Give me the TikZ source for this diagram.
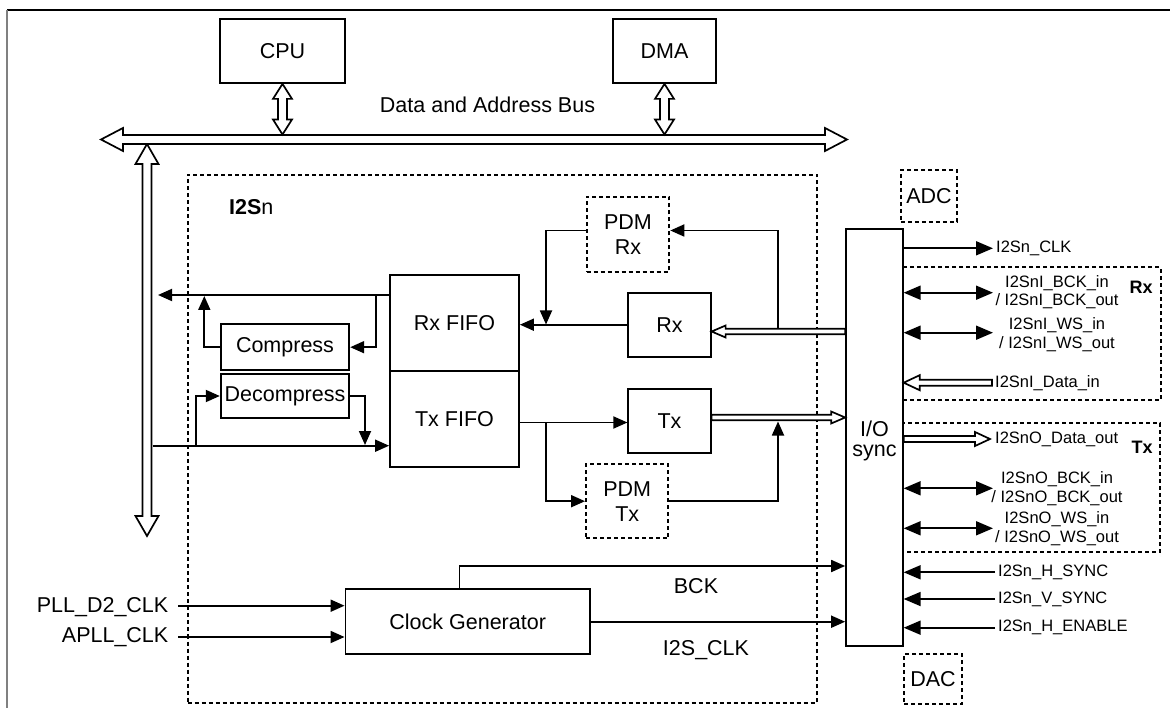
\documentclass[tikz,border=0pt]{standalone}
\usepackage{fontspec}
\setmainfont{Liberation Sans}
\usetikzlibrary{arrows.meta,calc}

\newcommand{\DblH}[5]{\draw[hollow] let \p1=#1, \p2=#2 in
 (\x1,\y1) -- ({\x1+#5},{\y1+#4}) -- ({\x1+#5},{\y1+#3}) -- ({\x2-#5},{\y1+#3}) -- ({\x2-#5},{\y1+#4}) -- (\x2,\y1) -- ({\x2-#5},{\y1-#4}) -- ({\x2-#5},{\y1-#3}) -- ({\x1+#5},{\y1-#3}) -- ({\x1+#5},{\y1-#4}) -- cycle;}
\newcommand{\DblV}[5]{\draw[hollow] let \p1=#1, \p2=#2 in
 (\x1,\y1) -- ({\x1+#4},{\y1-#5}) -- ({\x1+#3},{\y1-#5}) -- ({\x1+#3},{\y2+#5}) -- ({\x1+#4},{\y2+#5}) -- (\x1,\y2) -- ({\x1-#4},{\y2+#5}) -- ({\x1-#3},{\y2+#5}) -- ({\x1-#3},{\y1-#5}) -- ({\x1-#4},{\y1-#5}) -- cycle;}
\newcommand{\SglR}[5]{\draw[hollow] let \p1=#1, \p2=#2 in
 (\x1,{\y1+#3}) -- ({\x2-#5},{\y1+#3}) -- ({\x2-#5},{\y1+#4}) -- (\x2,\y1) -- ({\x2-#5},{\y1-#4}) -- ({\x2-#5},{\y1-#3}) -- (\x1,{\y1-#3}) -- cycle;}
\newcommand{\SglL}[5]{\draw[hollow] let \p1=#1, \p2=#2 in
 (\x1,\y1) -- ({\x1+#5},{\y1+#4}) -- ({\x1+#5},{\y1+#3}) -- (\x2,{\y1+#3}) -- (\x2,{\y1-#3}) -- ({\x1+#5},{\y1-#3}) -- ({\x1+#5},{\y1-#4}) -- cycle;}

\tikzset{
 box/.style={draw, line width=1.8pt, inner sep=0pt, font=\fontsize{21.5}{25}\selectfont, align=center},
 dbox/.style={box, line width=2pt, dash pattern=on 4pt off 3pt},
 conn/.style={line width=1.8pt, -{Triangle[length=14pt,width=12pt]}},
 sconn/.style={line width=1.8pt, -{Triangle[length=17pt,width=14pt]}},
 bconn/.style={line width=1.8pt, {Triangle[length=17pt,width=14pt]}-{Triangle[length=17pt,width=14pt]}},
 hollow/.style={draw, fill=white, line width=1.7pt, line join=miter},
 lbl/.style={inner sep=0pt, font=\fontsize{21.5}{25}\selectfont},
 slbl/.style={inner sep=0pt, font=\fontsize{16.5}{18.7}\selectfont, align=center},
 blbl/.style={inner sep=0pt, font=\fontsize{18}{20}\selectfont\bfseries},
 grp/.style={draw, dash pattern=on 4pt off 3pt, line width=2pt},
}

\begin{document}
\begin{tikzpicture}[x=1pt,y=-1pt]
\useasboundingbox (0,0) rectangle (1170,708);
\draw[line width=1.4pt] (7,10) -- (1170,10);
\draw[gray, line width=2.2pt] (7,10) -- (7,708);

% boxes
\node[box, minimum width=125pt, minimum height=64pt] (cpu) at (282.5,51) {CPU};
\node[box, minimum width=103pt, minimum height=64pt] (dma) at (664.5,51) {DMA};
\node[lbl] (buslbl) at (487.5,105) {Data and Address Bus};
\node[dbox, minimum width=629.6pt, minimum height=528pt] (i2s) at (502.5,438.7) {};
\node[lbl, anchor=west] (i2slbl) at (229,206.7) {\textbf{I2S}n};

\node[box, minimum width=129pt, minimum height=95.4pt] (rxfifo) at (454.5,323) {Rx FIFO};
\node[box, minimum width=129pt, minimum height=96pt] (txfifo) at (454.5,418.7) {Tx FIFO};
\node[box, minimum width=128.6pt, minimum height=45.7pt] (compress) at (285,347.2) {Compress};
\node[box, minimum width=128.6pt, minimum height=43.4pt] (decompress) at (285,396) {Decompress};
\node[dbox, minimum width=82.6pt, minimum height=75pt] (pdmrx) at (628,234.2) {PDM\\Rx};
\node[box, minimum width=82.4pt, minimum height=64pt] (rx) at (669.5,324.7) {Rx};
\node[box, minimum width=82.4pt, minimum height=63.7pt] (tx) at (669.5,420.8) {Tx};
\node[dbox, minimum width=82.3pt, minimum height=74.3pt] (pdmtx) at (627.2,501.2) {PDM\\Tx};
\node[box, minimum width=244.5pt, minimum height=64.7pt] (clk) at (467.7,621.7) {Clock Generator};
\node[dbox, minimum width=56.3pt, minimum height=51.7pt] (adc) at (929,196) {ADC};
\node[dbox, minimum width=58pt, minimum height=50pt] (dac) at (933,679) {DAC};

% groups
\draw[grp] (902.7,267.3) rectangle (1160.7,400);
\draw[grp] (902.7,423.3) rectangle (1160.2,551.7);
\node[blbl] (rxg) at (1141,287.7) {Rx};
\node[blbl] (txg) at (1142,447.7) {Tx};

\node[box, minimum width=56.7pt, minimum height=416.7pt] (io) at (874.4,437.4) {};
\node[lbl, align=center, font=\fontsize{21.5}{19.5}\selectfont] (iotxt) at (874.4,441) {I/O\\sync};

% buses
\coordinate (vbT) at (147,144);
\coordinate (vbB) at (147,536);
\DblV{(vbT)}{(vbB)}{4.5pt}{11.5pt}{20pt}
\coordinate (busL) at (101,139.5);
\coordinate (busR) at (847,139.5);
\DblH{(busL)}{(busR)}{4.5pt}{11.5pt}{22pt}
\coordinate (bustop) at (0,134.5);
\DblV{(cpu.south)}{(cpu.south |- bustop)}{4.5pt}{9.5pt}{15pt}
\DblV{(dma.south)}{(dma.south |- bustop)}{4.5pt}{9.5pt}{15pt}

% left side
\coordinate (rxout) at (158,295);
\draw[conn] (rxfifo.west |- rxout) -- (rxout);
\coordinate (brc) at (376,295);
\draw[conn] (brc) |- (compress.east);
\coordinate (cmpup) at (204.3,296);
\draw[conn] (compress.west) -| (cmpup);
\coordinate (txin) at (152.5,445.7);
\draw[conn] (txin) -- (txfifo.west |- txin);
\coordinate (brd) at (195.7,445.7);
\draw[conn] (brd) |- (decompress.west);
\coordinate (dcdn) at (365,445);
\draw[conn] (decompress.east) -| (dcdn);

% middle
\draw[conn] (rx.west) -- (rxfifo.east |- rx.west);
\coordinate (pdmy) at (0,230.5);
\coordinate (pdmdn) at (546,324.5);
\draw[conn] (pdmrx.west |- pdmy) -| (pdmdn);
\coordinate (rxh) at (0,331.5);
\SglL{(rx.east |- rxh)}{(io.west |- rxh)}{2.7pt}{6pt}{14pt}
\coordinate (brr) at (778.3,329);
\draw[conn] (brr) |- (pdmrx.east |- pdmy);
\coordinate (txy) at (0,422.5);
\draw[conn] (txfifo.east |- txy) -- (tx.west |- txy);
\coordinate (brt) at (546,422.5);
\draw[conn] (brt) |- (pdmtx.west);
\coordinate (txh) at (0,417.5);
\SglR{(tx.east |- txh)}{(io.west |- txh)}{2.7pt}{6pt}{14pt}
\coordinate (pdmup) at (778,421.5);
\draw[conn] (pdmtx.east) -| (pdmup);

% clock
\coordinate (pllS) at (178,605.7);
\coordinate (apllS) at (178,637);
\draw[conn] (pllS) -- (clk.west |- pllS);
\draw[conn] (apllS) -- (clk.west |- apllS);
\node[lbl, anchor=east] (plllbl) at (168.5,607) {PLL\_D2\_CLK};
\node[lbl, anchor=east] (aplllbl) at (168.5,637) {APLL\_CLK};
\coordinate (bckx) at (459.5,566);
\draw[conn] (clk.north -| bckx) |- (io.west |- bckx);
\draw[conn] (clk.east) -- (io.west |- clk.east);
\node[lbl] (bcklbl) at (696,586) {BCK};
\node[lbl] (i2sclklbl) at (706,650) {I2S\_CLK};

% right side
\coordinate (clkout) at (993,248.3);
\draw[sconn] (io.east |- clkout) -- (clkout);
\node[slbl, anchor=west] at (996,248.3) {I2Sn\_CLK};
\coordinate (rbck) at (993,292.7);
\draw[bconn] (io.east |- rbck) -- (rbck);
\node[slbl] at (1057,292.3) {I2SnI\_BCK\_in\\/ I2SnI\_BCK\_out};
\coordinate (rws) at (993,332.7);
\draw[bconn] (io.east |- rws) -- (rws);
\node[slbl] at (1057,334.5) {I2SnI\_WS\_in\\/ I2SnI\_WS\_out};
\coordinate (din) at (992,382.7);
\SglL{(io.east |- din)}{(din)}{3pt}{7.5pt}{16pt}
\node[slbl, anchor=west] at (995,382.7) {I2SnI\_Data\_in};
\coordinate (dout) at (990,439);
\SglR{(io.east |- dout)}{(dout)}{3pt}{7pt}{15pt}
\node[slbl, anchor=west] at (995,439) {I2SnO\_Data\_out};
\coordinate (obck) at (993,488.3);
\draw[bconn] (io.east |- obck) -- (obck);
\node[slbl] at (1057,489) {I2SnO\_BCK\_in\\/ I2SnO\_BCK\_out};
\coordinate (ows) at (993,528.3);
\draw[bconn] (io.east |- ows) -- (ows);
\node[slbl] at (1057,528.5) {I2SnO\_WS\_in\\/ I2SnO\_WS\_out};
\coordinate (hs) at (995,572.3);
\draw[sconn] (hs) -- (io.east |- hs);
\node[slbl, anchor=west] at (998,572.3) {I2Sn\_H\_SYNC};
\coordinate (vs) at (995,599);
\draw[sconn] (vs) -- (io.east |- vs);
\node[slbl, anchor=west] at (998,599) {I2Sn\_V\_SYNC};
\coordinate (he) at (995,627.7);
\draw[sconn] (he) -- (io.east |- he);
\node[slbl, anchor=west] at (998,627.7) {I2Sn\_H\_ENABLE};
\end{tikzpicture}
\end{document}
